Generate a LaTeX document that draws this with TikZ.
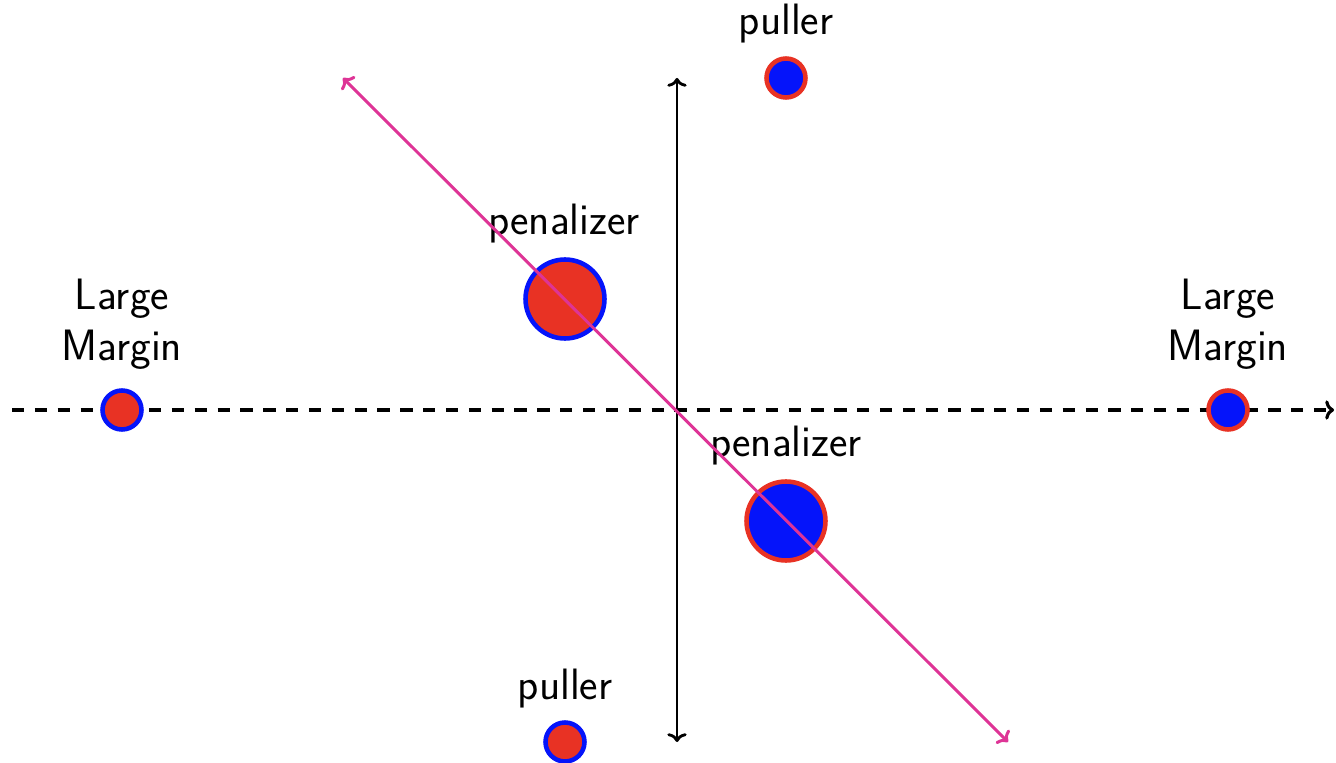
\documentclass[tikz,border=0pt]{standalone}
\usetikzlibrary{arrows.meta}
\definecolor{dotred}{RGB}{232,50,36}
\definecolor{dotblue}{RGB}{5,20,250}
\definecolor{magline}{RGB}{222,52,150}
\begin{document}
\begin{tikzpicture}[x=0.02cm,y=-0.02cm,
  lbl/.style={font=\sffamily\fontsize{25}{29}\selectfont, inner sep=0pt, align=center},
  reddot/.style={circle, fill=dotred, draw=dotblue, line width=2.6pt, inner sep=0pt},
  bluedot/.style={circle, fill=dotblue, draw=dotred, line width=2.6pt, inner sep=0pt},
  small/.style={minimum size=0.78cm},
  big/.style={minimum size=1.58cm},
  axis/.style={line width=1.8pt},
  vaxis/.style={line width=1.6pt},
  diag/.style={draw=magline, line width=1.7pt, {To[length=5pt,width=11pt]}-{To[length=5pt,width=11pt]}}]
\useasboundingbox (0,0) rectangle (1336,763);
% axis coordinates
\coordinate (hl) at (12,410);
\coordinate (hr) at (1334,410);
\coordinate (vt) at (677,78);
\coordinate (vb) at (677,742);
\coordinate (dt) at (343,78);
\coordinate (db) at (1008,742);
% horizontal axis (under the dots)
\draw[axis, -{To[length=5pt,width=11pt]}, dash pattern=on 7pt off 6pt] (hl) -- (hr);
% dots
\node[reddot,small] (lm) at (122,410) {};
\node[bluedot,small] (rm) at (1228,410) {};
\node[bluedot,small] (pt) at (786,78) {};
\node[reddot,small] (pb) at (565,742) {};
\node[reddot,big] (penL) at (565,299) {};
\node[bluedot,big] (penR) at (786,521) {};
% labels
\node[lbl, anchor=base] (tpt) at (786,35) {puller};
\node[lbl, anchor=base] (tpb) at (565,699) {puller};
\node[lbl, anchor=base] (tpenL) at (564,235) {penalizer};
\node[lbl, anchor=base] (tpenR) at (786,457) {penalizer};
\node[lbl] (tlm) at (122,324) {Large\\Margin};
\node[lbl] (trm) at (1228,324) {Large\\Margin};
% vertical axis and diagonal
\draw[vaxis, {To[length=5pt,width=11pt]}-{To[length=5pt,width=11pt]}] (vb) -- (vt);
\draw[diag] (dt) -- (db);
\end{tikzpicture}
\end{document}
